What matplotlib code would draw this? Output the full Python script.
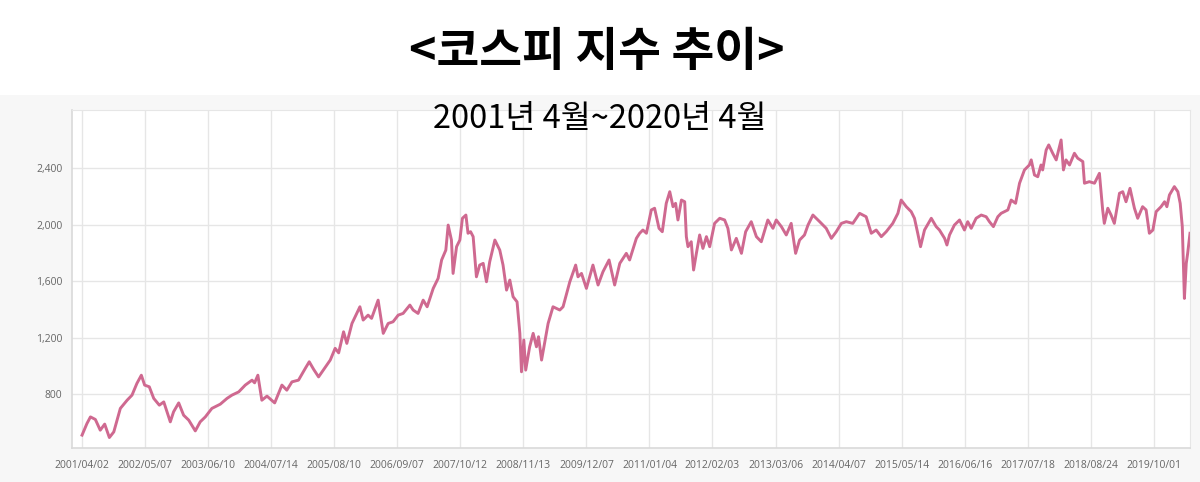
import matplotlib
matplotlib.use("Agg")
import matplotlib.pyplot as plt
from matplotlib.patches import Rectangle
from matplotlib.ticker import FuncFormatter

plt.rcParams["font.family"] = ["Noto Sans CJK KR", "DejaVu Sans"]

LINE_COLOR = "#cf6990"
GRID_COLOR = "#e6e6e6"
PANEL_COLOR = "#f7f7f7"

# session index (trading days since 2001/04/02) and KOSPI close
sessions = [
    0, 21, 36, 57, 78, 97, 117, 136, 164, 193, 214, 235, 254, 268, 288, 307,
    331, 350, 378, 392, 414, 435, 457, 485, 506, 528, 556, 592, 621, 642, 671,
    699, 728, 739, 753, 770, 792, 825, 856, 877, 899, 927, 956, 973, 992, 1013,
    1041, 1063, 1084, 1099, 1120, 1134, 1156, 1190, 1204, 1225, 1240, 1268,
    1290, 1311, 1332, 1354, 1375, 1404, 1418, 1439, 1461, 1478, 1504, 1525,
    1540, 1558, 1568, 1582, 1589, 1604, 1618, 1629, 1644, 1653, 1664, 1675,
    1689, 1703, 1718, 1732, 1746, 1768, 1789, 1803, 1818, 1832, 1846, 1863,
    1875, 1882, 1892, 1900, 1917, 1932, 1946, 1955, 1968, 1996, 2017, 2046,
    2060, 2089, 2114, 2124, 2139, 2160, 2188, 2210, 2231, 2257, 2281, 2303,
    2331, 2345, 2374, 2388, 2402, 2417, 2438, 2452, 2471, 2485, 2502, 2517,
    2531, 2542, 2552, 2567, 2581, 2588, 2595, 2609, 2619, 2631, 2645, 2659,
    2674, 2688, 2709, 2731, 2752, 2766, 2781, 2802, 2824, 2842, 2866, 2888,
    2909, 2937, 2959, 2973, 2995, 3016, 3037, 3056, 3073, 3094, 3109, 3130,
    3159, 3187, 3209, 3230, 3252, 3273, 3301, 3330, 3358, 3380, 3401, 3423,
    3444, 3472, 3494, 3508, 3530, 3551, 3565, 3579, 3591, 3608, 3637, 3658,
    3672, 3694, 3704, 3715, 3736, 3758, 3779, 3793, 3808, 3829, 3851, 3872,
    3886, 3903, 3922, 3936, 3965, 3979, 3998, 4015, 4036, 4057, 4065, 4079,
    4093, 4107, 4114, 4129, 4140, 4157, 4172, 4193, 4203, 4214, 4229, 4250,
    4264, 4286, 4293, 4314, 4336, 4357, 4371, 4378, 4393, 4407, 4421, 4443,
    4457, 4471, 4488, 4507, 4521, 4542, 4557, 4571, 4586, 4600, 4621, 4636,
    4646, 4657, 4678, 4693, 4703, 4712, 4721, 4729, 4735, 4745,
]
kospi = [
    510, 592, 639, 621, 545, 588, 493, 533, 699, 757, 793, 876, 934, 864, 852, 770,
    722, 745, 604, 675, 738, 651, 616, 540, 604, 639, 699, 729, 770, 793, 816,
    864, 899, 880, 934, 757, 786, 738, 864, 828, 887, 899, 982, 1029, 975, 922,
    988, 1041, 1124, 1092, 1241, 1159, 1300, 1418, 1324, 1359, 1336, 1465,
    1230, 1300, 1312, 1359, 1371, 1430, 1395, 1371, 1465, 1418, 1548, 1619,
    1749, 1819, 1996, 1890, 1654, 1843, 1890, 2044, 2067, 1938, 1949, 1914,
    1630, 1713, 1725, 1595, 1737, 1890, 1819, 1713, 1536, 1607, 1489, 1453,
    1230, 958, 1183, 970, 1135, 1230, 1135, 1206, 1041, 1300, 1418, 1395,
    1418, 1595, 1713, 1630, 1654, 1548, 1713, 1572, 1666, 1749, 1572, 1725,
    1796, 1749, 1902, 1938, 1961, 1938, 2103, 2115, 1973, 1949, 2150, 2232,
    2126, 2150, 2032, 2173, 2161, 1914, 1843, 1878, 1678, 1796, 1926, 1831,
    1914, 1843, 2008, 2044, 2032, 1973, 1820, 1902, 1796, 1949, 2020, 1914,
    1878, 2032, 1973, 2032, 1985, 1926, 2008, 1796, 1890, 1926, 1996, 2067,
    2020, 1973, 1902, 1949, 2008, 2020, 2008, 2079, 2055, 1938, 1961, 1914,
    1949, 2008, 2079, 2173, 2126, 2091, 2044, 1938, 1843, 1961, 2044, 1985,
    1961, 1902, 1855, 1926, 1996, 2032, 1961, 2020, 1973, 2044, 2067, 2055,
    2020, 1985, 2055, 2079, 2103, 2173, 2150, 2292, 2386, 2421, 2457, 2350,
    2338, 2421, 2386, 2527, 2563, 2504, 2457, 2598, 2386, 2457, 2421, 2504,
    2469, 2445, 2292, 2303, 2292, 2362, 2103, 2008, 2115, 2067, 2008, 2221,
    2232, 2161, 2256, 2115, 2044, 2126, 2103, 1938, 1961, 2091, 2126, 2161,
    2126, 2209, 2268, 2232, 2150, 1985, 1477, 1725, 1796, 1938,
]

tick_labels = [
    "2001/04/02", "2002/05/07", "2003/06/10", "2004/07/14", "2005/08/10",
    "2006/09/07", "2007/10/12", "2008/11/13", "2009/12/07", "2011/01/04",
    "2012/02/03", "2013/03/06", "2014/04/07", "2015/05/14", "2016/06/16",
    "2017/07/18", "2018/08/24", "2019/10/01",
]
TICK_STEP = 270  # sessions between labelled dates
y_ticks = [800, 1200, 1600, 2000, 2400]

fig = plt.figure(figsize=(12, 4.82), dpi=100)
fig.patch.set_facecolor("white")
fig.patches.append(Rectangle((0, 0), 1, 1 - 95 / 482, transform=fig.transFigure,
                             facecolor=PANEL_COLOR, edgecolor="none", zorder=-10))

ax = fig.add_axes([72 / 1200, 1 - 448 / 482, 1118 / 1200, 338 / 482])
ax.set_facecolor("white")
ax.plot(sessions, kospi, color=LINE_COLOR, linewidth=2.1, solid_joinstyle="round")

ax.set_xlim(-43, 4745)
ax.set_ylim(419, 2810)
ax.set_xticks([i * TICK_STEP for i in range(len(tick_labels))])
ax.set_xticklabels(tick_labels)
ax.set_yticks(y_ticks)
ax.yaxis.set_major_formatter(FuncFormatter(lambda v, p: f"{int(v):,}"))
ax.tick_params(axis="both", length=0, labelsize=7.5, labelcolor="#666666")
ax.tick_params(axis="x", pad=9)
ax.tick_params(axis="y", pad=7)
for lbl in ax.get_xticklabels() + ax.get_yticklabels():
    lbl.set_family(["Open Sans", "DejaVu Sans"])

ax.grid(True, color=GRID_COLOR, linewidth=1)
ax.set_axisbelow(True)
for side in ["top", "right"]:
    ax.spines[side].set_color(GRID_COLOR)
for side in ["left", "bottom"]:
    ax.spines[side].set_color("#d9d9d9")
    ax.spines[side].set_linewidth(1.2)

fig.text(0.497, 1 - 52 / 482, "<코스피 지수 추이>", ha="center", va="center",
         fontsize=33.5, fontweight="bold", color="black")
fig.text(0.5, 1 - 119 / 482, "2001년 4월~2020년 4월", ha="center", va="center",
         fontsize=23.5, color="black")

fig.savefig("out.png", dpi=100)
